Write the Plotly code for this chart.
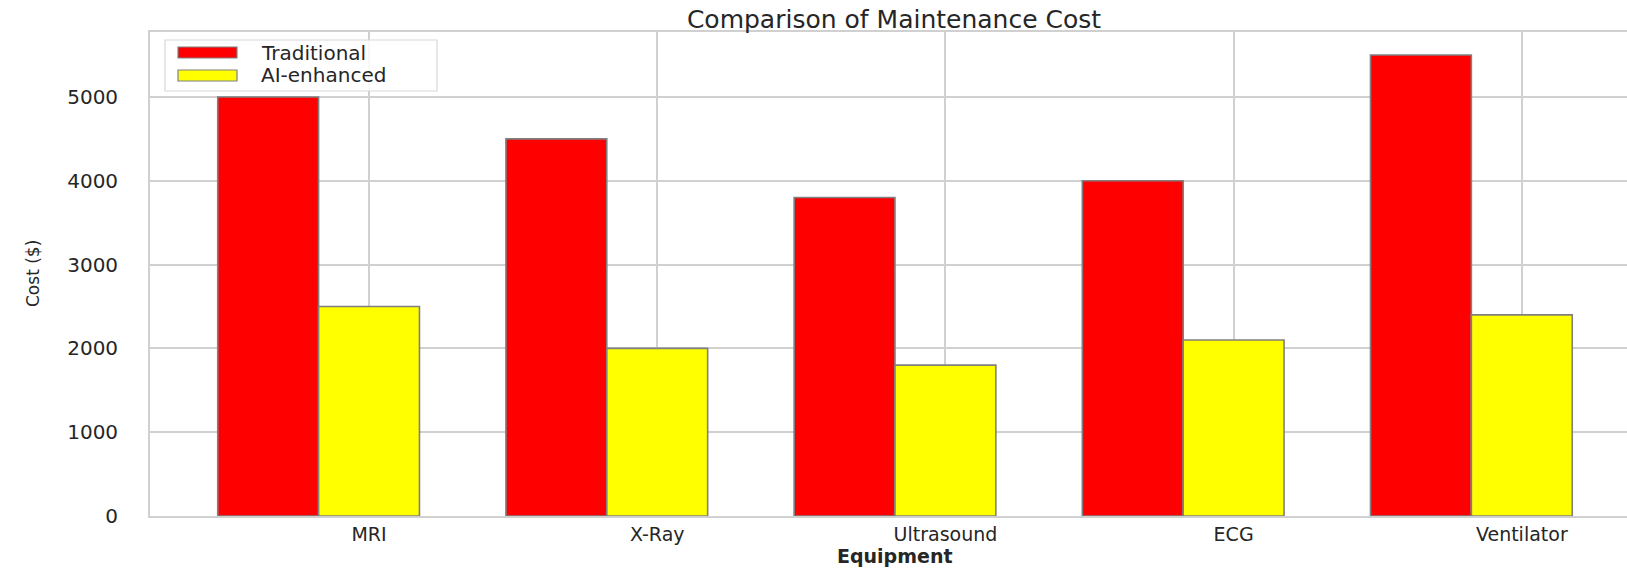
import numpy as np
import plotly.graph_objects as go

# Maintenance cost per equipment type
equipment = ["MRI", "X-Ray", "Ultrasound", "ECG", "Ventilator"]
traditional_cost = [5000, 4500, 3800, 4000, 5500]
ai_enhanced_cost = [2500, 2000, 1800, 2100, 2400]
series_names = ["Traditional", "AI-enhanced"]
series_colors = ["#ff0000", "#ffff00"]
y_ticks = [0, 1000, 2000, 3000, 4000, 5000]

bar_width = 0.35
idx = np.arange(len(equipment))

TEXT = "#262626"
GRID = "#d0d0d0"
FONT = "DejaVu Sans"

fig = go.Figure()
for name, color, values, offset in zip(series_names, series_colors,
                                       [traditional_cost, ai_enhanced_cost],
                                       [0.0, bar_width]):
    fig.add_trace(go.Bar(
        x=idx + offset, y=values, width=bar_width, name=name,
        marker=dict(color=color, line=dict(color="#808080", width=1.6)),
        showlegend=False,
    ))

# Legend box drawn in pixel-aligned paper coordinates
L, T, W, H = 150, 32, 1477, 484
def px(x):
    return (x - L) / W
def py(y):
    return 1 - (y - T) / H

shapes = [dict(type="rect", xref="paper", yref="paper",
               x0=px(165), x1=px(437), y0=py(91), y1=py(40),
               line=dict(color="#d8d8d8", width=1.2),
               fillcolor="rgba(255,255,255,0.85)", layer="above")]
annotations = []
for i, (name, color) in enumerate(zip(series_names, series_colors)):
    yc = 52.5 + i * 23
    shapes.append(dict(type="rect", xref="paper", yref="paper",
                       x0=px(178), x1=px(237), y0=py(yc + 5.5), y1=py(yc - 5.5),
                       line=dict(color="#808080", width=1.2),
                       fillcolor=color, layer="above"))
    annotations.append(dict(text=name, xref="paper", yref="paper",
                            x=px(259), y=py(yc), xanchor="left", yanchor="middle",
                            showarrow=False, font=dict(family=FONT, size=20, color=TEXT)))

# Axis titles
annotations.append(dict(text="<b>Equipment</b>", xref="paper", yref="paper",
                        x=px(895), y=py(556), xanchor="center", yanchor="middle",
                        showarrow=False, font=dict(family=FONT, size=19, color=TEXT)))
annotations.append(dict(text="Cost ($)", xref="paper", yref="paper",
                        x=px(33), y=0.5, xanchor="center", yanchor="middle",
                        textangle=-90, showarrow=False,
                        font=dict(family=FONT, size=17, color=TEXT)))

fig.update_layout(
    width=1627, height=570,
    margin=dict(l=L, r=0, t=T, b=570 - T - H, pad=0),
    paper_bgcolor="white", plot_bgcolor="white",
    barmode="overlay",
    title=dict(text="Comparison of Maintenance Cost", x=px(894), xanchor="center",
               xref="paper", y=1 - 19 / 570, yanchor="middle",
               font=dict(family=FONT, size=25, color=TEXT)),
    xaxis=dict(range=[-0.41, 4.715], tickvals=idx + bar_width, ticktext=equipment,
               showgrid=True, gridcolor=GRID, gridwidth=1.8,
               showline=True, linecolor=GRID, linewidth=1.8, mirror=True,
               ticks="", ticklabelstandoff=0, zeroline=False,
               tickfont=dict(family=FONT, size=19, color=TEXT)),
    yaxis=dict(range=[0, 5775], tickvals=y_ticks,
               showgrid=True, gridcolor=GRID, gridwidth=1.8,
               showline=True, linecolor=GRID, linewidth=1.8,
               ticks="", ticklabelstandoff=26, zeroline=False,
               tickfont=dict(family=FONT, size=20, color=TEXT)),
    shapes=shapes, annotations=annotations,
    showlegend=False,
)

fig.write_html("out.html")
